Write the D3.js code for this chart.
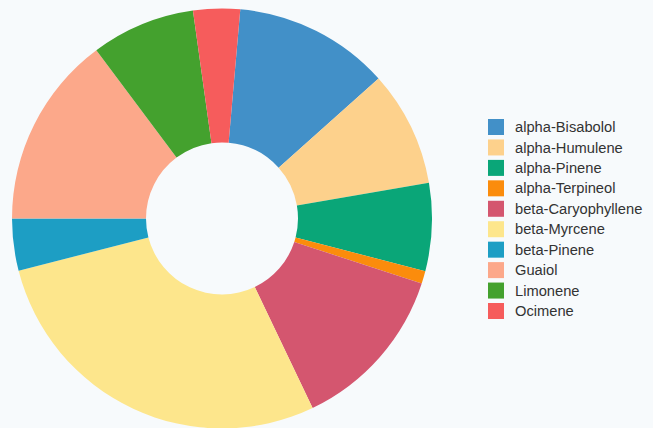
<!DOCTYPE html>
<html>
<head>
<meta charset="utf-8">
<script src="https://cdn.jsdelivr.net/npm/d3@7"></script>
<style>
    html, body { margin: 0; padding: 0; background: #f7fafc; }
    svg { display: block; }
</style>
</head>
<body>
<div id="chart"></div>
<script>
// terpene shares (percent)
const terpenes = ["alpha-Bisabolol", "alpha-Humulene", "alpha-Pinene", "alpha-Terpineol",
    "beta-Caryophyllene", "beta-Myrcene", "beta-Pinene", "Guaiol", "Limonene", "Ocimene"];
const shares = [12.0, 8.9, 6.75, 0.97, 12.9, 28.1, 4.0, 14.8, 8.0, 3.6];
const colors = ["#4290c8", "#fdd18c", "#0aa678", "#fb8c0c", "#d4566f",
    "#fde68c", "#1d9ec4", "#fca88a", "#44a12e", "#f65c5c"];

const width = 653, height = 428;
const cx = 222, cy = 218.5;
const outerR = 210, innerR = 76;
const offset = 5 * Math.PI / 180; // chart starts a little past 12 o'clock

const data = terpenes.map((name, i) => ({ name: name, value: shares[i] }));

const svg = d3.select("#chart").append("svg")
    .attr("width", width)
    .attr("height", height);

const color = d3.scaleOrdinal().domain(terpenes).range(colors);

const pie = d3.pie()
    .value(d => d.value)
    .sort(null)
    .startAngle(offset)
    .endAngle(offset + 2 * Math.PI);

const arc = d3.arc()
    .innerRadius(innerR)
    .outerRadius(outerR);

svg.append("g")
    .attr("transform", `translate(${cx},${cy})`)
    .selectAll("path")
    .data(pie(data))
    .join("path")
    .attr("d", arc)
    .attr("fill", d => color(d.data.name));

// legend
const rowY = d3.scaleLinear().domain([0, terpenes.length - 1]).range([127, 311]);
const sq = 16;

const legend = svg.append("g")
    .selectAll("g")
    .data(terpenes)
    .join("g")
    .attr("transform", (d, i) => `translate(488,${rowY(i)})`);

legend.append("rect")
    .attr("x", 0)
    .attr("y", -sq / 2)
    .attr("width", sq)
    .attr("height", sq)
    .attr("fill", d => color(d));

legend.append("text")
    .attr("x", 27)
    .attr("y", 0)
    .attr("dy", "0.35em")
    .attr("font-family", "'Liberation Sans', Arial, sans-serif")
    .attr("font-size", "14.7px")
    .attr("fill", "#333")
    .text(d => d);
</script>
</body>
</html>
